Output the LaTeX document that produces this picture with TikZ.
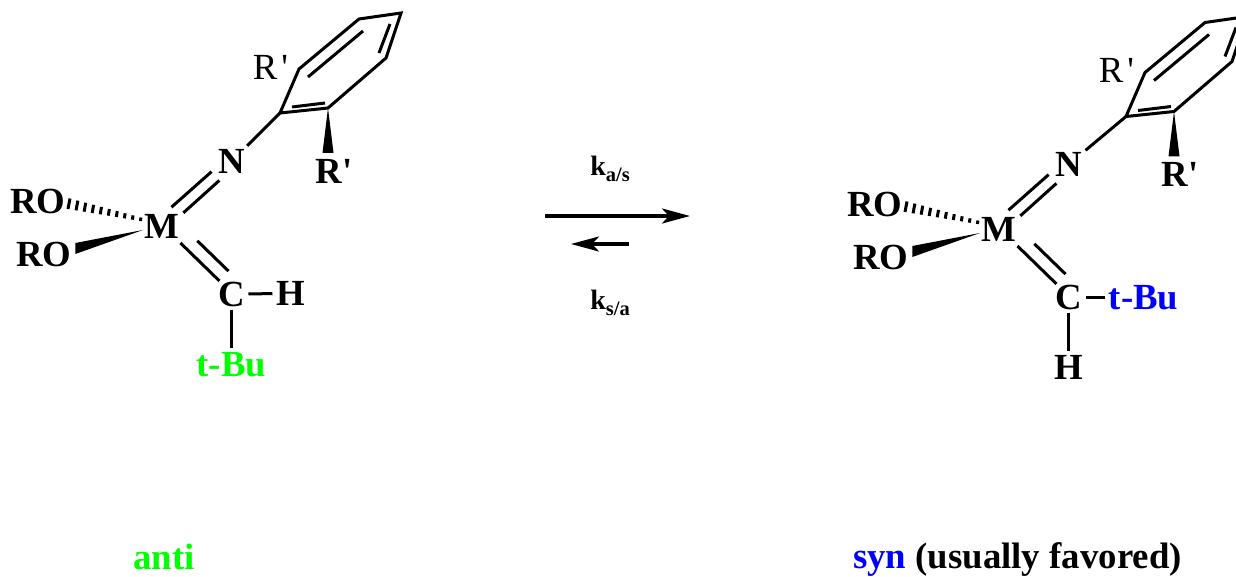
\documentclass[tikz,border=0pt]{standalone}
\usepackage{fontspec}
\setmainfont{Liberation Serif}
\usetikzlibrary{arrows.meta, calc}

\definecolor{antigreen}{RGB}{0,255,0}
\definecolor{synblue}{RGB}{0,0,255}
\newcommand{\ratelabel}[1]{k\raisebox{-6pt}{\fontsize{20.5}{22}\selectfont #1}}

\begin{document}
\begin{tikzpicture}[
    x=1pt, y=-1pt,
    atom/.style={font=\fontsize{36.8}{38}\selectfont\bfseries, inner sep=3.5pt, text height=24pt, text depth=0pt},
    thinatom/.style={atom, font=\fontsize{36.8}{38}\selectfont},
    bond/.style={line width=3pt},
    rate/.style={font=\fontsize{28}{30}\selectfont\bfseries, inner sep=0pt},
    caption/.style={font=\fontsize{36.8}{38}\selectfont\bfseries, inner sep=0pt, anchor=base},
    arrow/.style={-{Stealth[length=28pt, width=15pt, inset=7pt]}, line width=3.4pt}
]
    \path[use as bounding box, clip] (0,0) rectangle (1236,576);

    % both molecules share this part
    \foreach \side/\dx/\dy/\rx/\ry in {l/0/0/0/0, r/837/3/9/0.5} {
    \begin{scope}[shift={(\dx,\dy)}, name prefix=\side-]
        \node[atom] (M) at (161.5,226) {M};
        \node[atom] (N) at (231.5,161.5) {N};
        \node[atom] (C) at (231.5,294) {C};
        \node[atom] (ROa) at (38,201) {RO};
        \node[atom] (ROb) at (44,254.5) {RO};

        % ring
        \begin{scope}[shift={(\rx,\ry)}]
            \node[atom] (Rb) at (334,171) {R\textquotesingle};
            \node[thinatom] (Rt) at (270.5,67) {R\kern4pt\textquotesingle};
            \coordinate (a) at (280,113);
            \coordinate (b) at (328,108);
            \coordinate (c) at (386,58);
            \coordinate (d) at (401,13);
            \coordinate (e) at (359,19);
            \coordinate (f) at (299,69);
            \draw[bond] (a) -- (b) -- (c) -- (d) -- (e) -- (f) -- cycle;
            \coordinate (ab1) at (292,107);
            \coordinate (ab2) at (325,103);
            \coordinate (cd1) at (379,53);
            \coordinate (cd2) at (390,24);
            \coordinate (ef1) at (363,31);
            \coordinate (ef2) at (308,77);
            \draw[bond] (ab1) -- (ab2);
            \draw[bond] (cd1) -- (cd2);
            \draw[bond] (ef1) -- (ef2);
        \end{scope}
        \draw[bond] (N) -- (a);

        % double bonds to M
        \draw[bond, shorten <=26.6pt, shorten >=13.3pt] ([yshift=7.5pt]N.center) -- ([yshift=10pt]M.center);
        \draw[bond, shorten <=16.3pt, shorten >=29.4pt] ([yshift=-8pt]N.center) -- ([yshift=-6.5pt]M.center);
        \draw[bond, shorten <=26.5pt, shorten >=16.8pt] ([yshift=1.5pt]M.center) -- ([yshift=1.3pt]C.center);
        \draw[bond, shorten <=50pt, shorten >=4.2pt] ([yshift=20pt]M.center) -- ([yshift=20pt]C.center);

        % wedges
        \fill ([shift={(2.5pt,-4pt)}]M.west) -- ([yshift=11.5pt]ROb.east) -- ([yshift=0.5pt]ROb.east) -- cycle;
        \fill (b) -- ([shift={(-5.5pt,2.5pt)}]b |- Rb.north) -- ([shift={(5.5pt,2.5pt)}]b |- Rb.north) -- cycle;

        % hashed bond
        \coordinate (hau) at (70,198.5);
        \coordinate (hal) at (68,209);
        \coordinate (hbu) at (141,217.5);
        \coordinate (hbl) at (140.5,221);
        \foreach \t in {0,0.111,...,1.01}
            \draw[line width=3pt] ($(hau)!\t!(hbu)$) -- ($(hal)!\t!(hbl)$);
    \end{scope}
    }

    % anti
    \node[atom] (l-H) at (290.5,293.5) {H};
    \node[atom, text=antigreen] (l-tBu) at (231.5,364) {t-Bu};
    \draw[bond] (l-C) -- (l-H);
    \draw[bond] (l-C) -- (l-tBu);

    % syn
    \node[atom, text=synblue] (r-tBu) at (1143.5,297) {t-Bu};
    \node[atom] (r-H) at (1068.5,367) {H};
    \draw[bond] (r-C) -- (r-tBu);
    \draw[bond] (r-C) -- (r-H);

    % equilibrium
    \coordinate (fwdstart) at (545,216);
    \coordinate (fwdend) at (690,216);
    \coordinate (revstart) at (629,244);
    \coordinate (revend) at (571,244);
    \draw[arrow] (fwdstart) -- (fwdend);
    \draw[arrow] (revstart) -- (revend);
    \node[rate] (kas) at (610,169) {\ratelabel{a/s}};
    \node[rate] (ksa) at (610,303) {\ratelabel{s/a}};

    \node[caption, text=antigreen] (anti) at (164,569) {anti};
    \node[caption] (syn) at (1017.5,568.5) {\textcolor{synblue}{syn} (usually favored)};
\end{tikzpicture}
\end{document}
